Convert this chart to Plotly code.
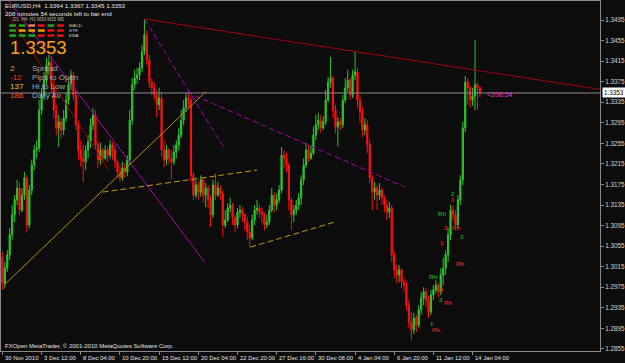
import plotly.graph_objects as go

# ---------------- data ----------------
symbol_header = "EURUSD,H4  1.3364 1.3367 1.3345 1.3353"
timer_text = "208 minutes 54 seconds left to bar end"
first_open = 1.3034

closes = [
    1.2983, 1.3012, 1.3038, 1.3077, 1.3116, 1.3145, 1.3168, 1.3125, 1.3154, 1.3188,
    1.3096, 1.3164, 1.3213, 1.3242, 1.3246, 1.3320, 1.3349, 1.3378, 1.3407, 1.3413,
    1.3369, 1.3320, 1.3285, 1.3297, 1.3281, 1.3304, 1.3339, 1.3369, 1.3388, 1.3349,
    1.3291, 1.3242, 1.3226, 1.3219, 1.3242, 1.3258, 1.3291, 1.3310, 1.3252, 1.3223,
    1.3242, 1.3226, 1.3242, 1.3232, 1.3252, 1.3242, 1.3219, 1.3199, 1.3188, 1.3207,
    1.3199, 1.3223, 1.3300, 1.3369, 1.3382, 1.3388, 1.3402, 1.3433, 1.3466, 1.3417,
    1.3374, 1.3363, 1.3349, 1.3330, 1.3343, 1.3242, 1.3223, 1.3242, 1.3226, 1.3219,
    1.3238, 1.3252, 1.3271, 1.3300, 1.3324, 1.3343, 1.3339, 1.3193, 1.3154, 1.3174,
    1.3160, 1.3184, 1.3154, 1.3168, 1.3145, 1.3116, 1.3174, 1.3154, 1.3168, 1.3158,
    1.3096, 1.3106, 1.3129, 1.3135, 1.3110, 1.3096, 1.3121, 1.3125, 1.3116, 1.3102,
    1.3082, 1.3071, 1.3106, 1.3125, 1.3129, 1.3121, 1.3116, 1.3096, 1.3102, 1.3125,
    1.3154, 1.3135, 1.3145, 1.3164, 1.3232, 1.3226, 1.3213, 1.3145, 1.3116, 1.3125,
    1.3135, 1.3149, 1.3184, 1.3213, 1.3242, 1.3226, 1.3236, 1.3271, 1.3291, 1.3300,
    1.3285, 1.3297, 1.3339, 1.3374, 1.3382, 1.3320, 1.3287, 1.3297, 1.3291, 1.3339,
    1.3363, 1.3378, 1.3349, 1.3388, 1.3394, 1.3339, 1.3316, 1.3281, 1.3291, 1.3252,
    1.3188, 1.3160, 1.3168, 1.3154, 1.3164, 1.3149, 1.3135, 1.3121, 1.3129, 1.3038,
    1.3009, 1.2999, 1.3009, 1.2985, 1.2979, 1.2940, 1.2907, 1.2892, 1.2915, 1.2901,
    1.2931, 1.2954, 1.2966, 1.2950, 1.2927, 1.2960, 1.2970, 1.2979, 1.2966, 1.2999,
    1.3012, 1.3038, 1.3077, 1.3125, 1.3116, 1.3096, 1.3145, 1.3184, 1.3285, 1.3374,
    1.3363, 1.3339, 1.3347, 1.3369, 1.3363, 1.3353]

highs = [
    1.3044, 1.3024, 1.3047, 1.3090, 1.3135, 1.3154, 1.3184, 1.3178, 1.3168, 1.3199,
    1.3193, 1.3174, 1.3223, 1.3252, 1.3261, 1.3339, 1.3363, 1.3394, 1.3421, 1.3427,
    1.3421, 1.3378, 1.3330, 1.3310, 1.3304, 1.3320, 1.3355, 1.3382, 1.3398, 1.3394,
    1.3359, 1.3300, 1.3261, 1.3252, 1.3252, 1.3271, 1.3304, 1.3324, 1.3320, 1.3261,
    1.3256, 1.3246, 1.3252, 1.3248, 1.3261, 1.3258, 1.3252, 1.3223, 1.3213, 1.3219,
    1.3217, 1.3232, 1.3320, 1.3382, 1.3398, 1.3402, 1.3413, 1.3446, 1.3497, 1.3476,
    1.3427, 1.3382, 1.3374, 1.3359, 1.3363, 1.3355, 1.3261, 1.3252, 1.3246, 1.3242,
    1.3252, 1.3261, 1.3285, 1.3320, 1.3339, 1.3353, 1.3351, 1.3345, 1.3199, 1.3184,
    1.3180, 1.3193, 1.3188, 1.3178, 1.3174, 1.3154, 1.3184, 1.3197, 1.3180, 1.3174,
    1.3164, 1.3125, 1.3139, 1.3149, 1.3139, 1.3116, 1.3129, 1.3135, 1.3131, 1.3119,
    1.3112, 1.3096, 1.3116, 1.3135, 1.3145, 1.3137, 1.3131, 1.3121, 1.3116, 1.3135,
    1.3168, 1.3160, 1.3158, 1.3174, 1.3248, 1.3242, 1.3236, 1.3219, 1.3149, 1.3135,
    1.3145, 1.3158, 1.3193, 1.3226, 1.3256, 1.3252, 1.3252, 1.3287, 1.3310, 1.3314,
    1.3310, 1.3308, 1.3359, 1.3384, 1.3423, 1.3386, 1.3330, 1.3306, 1.3304, 1.3349,
    1.3382, 1.3398, 1.3382, 1.3398, 1.3433, 1.3402, 1.3349, 1.3326, 1.3304, 1.3300,
    1.3261, 1.3193, 1.3180, 1.3174, 1.3178, 1.3170, 1.3154, 1.3145, 1.3141, 1.3135,
    1.3044, 1.3018, 1.3018, 1.3012, 1.2993, 1.2985, 1.2950, 1.2927, 1.2925, 1.2921,
    1.2940, 1.2966, 1.2975, 1.2973, 1.2958, 1.2970, 1.2979, 1.2989, 1.2983, 1.3012,
    1.3032, 1.3047, 1.3090, 1.3135, 1.3135, 1.3125, 1.3154, 1.3193, 1.3297, 1.3386,
    1.3382, 1.3367, 1.3363, 1.3456, 1.3374, 1.3367]

lows = [
    1.2970, 1.2973, 1.3005, 1.3028, 1.3067, 1.3102, 1.3135, 1.3116, 1.3121, 1.3145,
    1.3081, 1.3090, 1.3154, 1.3203, 1.3226, 1.3238, 1.3310, 1.3339, 1.3369, 1.3388,
    1.3355, 1.3304, 1.3271, 1.3248, 1.3265, 1.3271, 1.3297, 1.3330, 1.3359, 1.3339,
    1.3281, 1.3223, 1.3209, 1.3180, 1.3203, 1.3226, 1.3246, 1.3281, 1.3242, 1.3207,
    1.3213, 1.3217, 1.3223, 1.3219, 1.3226, 1.3223, 1.3207, 1.3188, 1.3180, 1.3182,
    1.3188, 1.3191, 1.3213, 1.3291, 1.3359, 1.3370, 1.3378, 1.3394, 1.3427, 1.3407,
    1.3363, 1.3349, 1.3339, 1.3306, 1.3320, 1.3228, 1.3209, 1.3213, 1.3215, 1.3184,
    1.3213, 1.3226, 1.3242, 1.3265, 1.3291, 1.3316, 1.3324, 1.3180, 1.3145, 1.3149,
    1.3145, 1.3151, 1.3139, 1.3131, 1.3129, 1.3092, 1.3110, 1.3145, 1.3151, 1.3145,
    1.3073, 1.3090, 1.3102, 1.3121, 1.3096, 1.3082, 1.3090, 1.3110, 1.3102, 1.3086,
    1.3067, 1.3053, 1.3067, 1.3096, 1.3116, 1.3110, 1.3100, 1.3086, 1.3090, 1.3096,
    1.3121, 1.3121, 1.3125, 1.3139, 1.3158, 1.3207, 1.3199, 1.3125, 1.3086, 1.3102,
    1.3116, 1.3125, 1.3135, 1.3174, 1.3207, 1.3219, 1.3223, 1.3232, 1.3261, 1.3281,
    1.3275, 1.3281, 1.3291, 1.3335, 1.3363, 1.3304, 1.3275, 1.3248, 1.3281, 1.3285,
    1.3333, 1.3355, 1.3339, 1.3343, 1.3378, 1.3324, 1.3295, 1.3267, 1.3271, 1.3236,
    1.3178, 1.3125, 1.3145, 1.3125, 1.3145, 1.3135, 1.3121, 1.3106, 1.3110, 1.3024,
    1.2993, 1.2983, 1.2985, 1.2973, 1.2966, 1.2931, 1.2896, 1.2872, 1.2884, 1.2888,
    1.2896, 1.2921, 1.2940, 1.2936, 1.2915, 1.2921, 1.2950, 1.2964, 1.2956, 1.2960,
    1.2979, 1.2999, 1.3024, 1.3067, 1.3106, 1.3086, 1.3090, 1.3135, 1.3174, 1.3277,
    1.3330, 1.3324, 1.3328, 1.3320, 1.3320, 1.3345]

opens = [first_open] + closes[:-1]

time_labels = ["30 Nov 2010", "3 Dec 12:00", "8 Dec 04:00", "10 Dec 20:00", "15 Dec 12:00",
               "20 Dec 04:00", "22 Dec 20:00", "27 Dec 16:00", "30 Dec 08:00", "4 Jan 04:00",
               "6 Jan 20:00", "11 Jan 12:00", "14 Jan 04:00"]
time_label_bars = [0, 16, 32, 48, 64, 80, 96, 112, 128, 144, 160, 176, 192]

price_ticks = [1.2855, 1.2895, 1.2935, 1.2975, 1.3015, 1.3055, 1.3095, 1.3135, 1.3175,
               1.3215, 1.3255, 1.3295, 1.3335, 1.3375, 1.3415, 1.3455, 1.3495]

# trend lines: (bar index, price) endpoints
trend_bar0 = [2.7, 0.65, 58.0, 75.1, 0.65, 40.9, 101.2, 58.0]
trend_px0 = [1.3532, 1.3518, 1.3497, 1.3355, 1.2979, 1.3160, 1.3053, 1.3497]
trend_bar1 = [82.5, 43.4, 90.2, 164.3, 82.9, 104.0, 135.8, 244.0]
trend_px1 = [1.3024, 1.3203, 1.3248, 1.3170, 1.3355, 1.3203, 1.3102, 1.3360]

# wave markers from the indicator
mark_text = ["2", "1", "Rh", "3", "Rh", "3", "1", "Rh", "Rh", "2", "3", "Rh", "1", "Rh"]
mark_bar = [183.8, 183.8, 179.7, 181.0, 185.4, 187.6, 179.7, 187.0, 175.7, 179.7, 178.9, 181.8, 175.3, 176.9]
mark_price = [1.3157, 1.3145, 1.3119, 1.3092, 1.3092, 1.3074, 1.3063, 1.3022, 1.2995, 1.2970,
              1.2952, 1.2946, 1.2905, 1.2893]
mark_up = [True, False, True, False, False, True, False, False, True, False, True, False, True, False]

info_values = ["2", "-12", "137", "186"]
info_labels = ["Spread", "Pips to Open", "Hi to Low", "Daily Av"]

panel_names = ["MACD", "STR", "EMA"]
panel_frames = "D1  H4  H1 M30 M15 M5"
panel_states = [["g", "g", "s", "r", "g", "r"],
                ["g", "o", "o", "o", "r", "r"],
                ["g", "g", "g", "r", "r", "r"]]

# ---------------- styling ----------------
BG = "#0b0c0b"
GREEN = "#2fc42f"
RED = "#ff1010"
AXIS = "#8a8a8a"
TXT = "#e6e6e6"
FONT = "Liberation Sans, Arial, sans-serif"
W, H = 625, 363
PL, PR, PT, PB = 0, 601, 1, 351


def pp(x, y):
    return x / (PR - PL), (PB - y) / (PB - PT)


n = len(closes)
fig = go.Figure()
fig.add_trace(go.Candlestick(
    x=list(range(n)), open=opens, high=highs, low=lows, close=closes,
    increasing=dict(line=dict(color=GREEN, width=1), fillcolor=GREEN),
    decreasing=dict(line=dict(color=RED, width=1), fillcolor=RED),
    whiskerwidth=0, hoverinfo="skip", showlegend=False))

shapes = []
trend_styles = [("#b000b0", "solid"), ("#a00000", "solid"), ("#b000b0", "6px,3px"),
                ("#b000b0", "6px,3px"), ("#c08a10", "solid"), ("#c89a10", "6px,3px"),
                ("#c89a10", "6px,3px"), ("#a00010", "solid")]
for k in range(len(trend_bar0)):
    col, dash = trend_styles[k]
    shapes.append(dict(type="line", xref="x", yref="y", x0=trend_bar0[k], y0=trend_px0[k],
                       x1=trend_bar1[k], y1=trend_px1[k], line=dict(color=col, width=1, dash=dash)))
# current price line
shapes.append(dict(type="line", xref="paper", yref="y", x0=0, x1=1, y0=closes[-1], y1=closes[-1],
                   line=dict(color="#8c8c8c", width=1)))

# indicator panel blocks
pcol = {"g": "#1fa51f", "r": "#e81010", "o": "#f0a000", "s": "#f07a6a"}
for r, row in enumerate(panel_states):
    for j, st in enumerate(row):
        x0, y0 = pp(8.3 + 9.6 * j, 24.3 + 5 * r)
        x1, y1 = pp(15.0 + 9.6 * j, 26.8 + 5 * r)
        shapes.append(dict(type="rect", xref="paper", yref="paper", x0=x0, y0=y1, x1=x1, y1=y0,
                           fillcolor=pcol[st], line=dict(width=0)))

ann = []


def txt(x, y, s, size, color, anchor="left", bold=False):
    ax, ay = pp(x, y)
    ann.append(dict(xref="paper", yref="paper", x=ax, y=ay, text=("<b>%s</b>" % s) if bold else s,
                    showarrow=False, xanchor=anchor, yanchor="middle",
                    font=dict(family=FONT, size=size, color=color)))


txt(2, 5.5, symbol_header, 6.2, TXT)
txt(2, 13.5, timer_text, 6.2, TXT)
txt(10.5, 19.5, panel_frames, 4.6, "#b8b8b8")
for r, nm in enumerate(panel_names):
    txt(66, 25.5 + 5 * r, nm, 4.4, "#c8c8c8")
txt(7, 48, "%.4f" % closes[-1], 18.5, "#ffa10a")
info_colors = ["#f2a300", "#ff3a1a", "#ffc21a", "#ff5a2a"]
for r in range(4):
    txt(7, 68.5 + 9 * r, info_values[r], 8, info_colors[r])
    txt(29, 68.5 + 9 * r, info_labels[r], 8, "#a8a8a8")
txt(2, 345.5, "FXOpen MetaTrader, \u00a9 2001-2010 MetaQuotes Software Corp.", 6.0, TXT)

# countdown label near last bar
ann.append(dict(xref="x", yref="y", x=n + 1.2, y=closes[-1] - 0.00035, text="<208:54", showarrow=False,
                xanchor="left", yanchor="middle", font=dict(family=FONT, size=7, color="#e030e0")))

# time axis labels (MT4 style, to the right of the tick)
for b, lab in zip(time_label_bars, time_labels):
    ann.append(dict(xref="x", yref="paper", x=b, y=-0.006, text=lab, showarrow=False,
                    xanchor="left", yanchor="top", xshift=0.5,
                    font=dict(family=FONT, size=5.9, color=TXT)))

# current price box on the price axis
ann.append(dict(xref="paper", yref="y", x=1, y=closes[-1], text="%.4f" % closes[-1], showarrow=False,
                xanchor="left", yanchor="middle", xshift=2, bgcolor="#ffffff", borderpad=1,
                font=dict(family=FONT, size=6.3, color="#000000")))

# indicator wave markers
for t, b, p, up in zip(mark_text, mark_bar, mark_price, mark_up):
    ann.append(dict(xref="x", yref="y", x=b, y=p, text="<b>%s</b>" % t, showarrow=False,
                    xanchor="center", yanchor="middle",
                    font=dict(family=FONT, size=6.2, color="#239a23" if up else "#e81818")))

fig.update_layout(
    width=W, height=H, margin=dict(l=PL, r=W - PR, t=PT, b=H - PB),
    paper_bgcolor=BG, plot_bgcolor=BG, shapes=shapes, annotations=ann, showlegend=False,
    xaxis=dict(range=[-0.57, 244.03], showgrid=False, zeroline=False, rangeslider=dict(visible=False),
               tickvals=time_label_bars, ticks="outside", ticklen=3, tickcolor=AXIS,
               showticklabels=False, showline=True, mirror=True, linecolor=AXIS, linewidth=1),
    yaxis=dict(range=[1.28509, 1.35320], side="right", showgrid=False, zeroline=False,
               tickvals=price_ticks, ticktext=["%.4f" % v for v in price_ticks],
               ticks="outside", ticklen=3, tickcolor=AXIS,
               tickfont=dict(family=FONT, size=6.3, color="#d8d8d8"),
               showline=True, mirror=True, linecolor=AXIS, linewidth=1),
)

fig.write_html("out.html", config={"displayModeBar": False})
